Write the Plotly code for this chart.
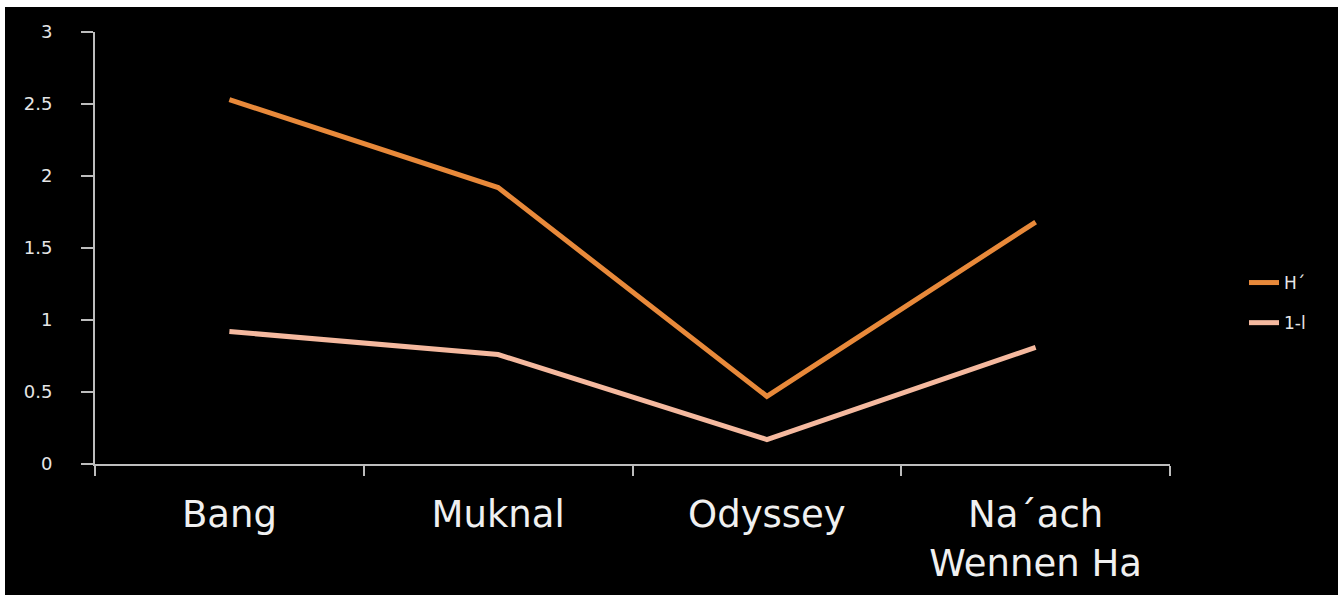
import plotly.graph_objects as go

# Diversity indices per site
sites = ["Bang", "Muknal", "Odyssey", "Na´ach<br>Wennen Ha"]
h_prime = [2.53, 1.92, 0.47, 1.68]
one_minus_l = [0.92, 0.76, 0.17, 0.81]
y_ticks = [0, 0.5, 1, 1.5, 2, 2.5, 3]

W, H = 1343, 598
L, R, T, B = 95, 173, 32, 134
pw, ph = W - L - R, H - T - B

def px_to_paper_x(px):
    return (px - L) / pw

def px_to_paper_y(py):
    return (H - B - py) / ph

fig = go.Figure()
fig.add_trace(go.Scatter(x=sites, y=h_prime, mode="lines", name="H´",
                         legendgroup="a", line=dict(color="#E8893A", width=5)))
fig.add_trace(go.Scatter(x=sites, y=one_minus_l, mode="lines", name="1-l",
                         legendgroup="b", line=dict(color="#F5B99F", width=5)))

# black panel with a thin white frame around it
fig.add_shape(type="rect", xref="paper", yref="paper", layer="below",
              x0=px_to_paper_x(5), x1=px_to_paper_x(1338),
              y0=px_to_paper_y(595), y1=px_to_paper_y(7),
              fillcolor="black", line=dict(width=0))

fig.update_layout(
    width=W, height=H,
    margin=dict(l=L, r=R, t=T, b=B),
    paper_bgcolor="white",
    plot_bgcolor="rgba(0,0,0,0)",
    font=dict(family="DejaVu Sans", color="#e6e6e6"),
    showlegend=True,
    legend=dict(x=px_to_paper_x(1244), y=px_to_paper_y(265), xanchor="left", yanchor="top",
                bgcolor="rgba(0,0,0,0)", font=dict(size=17, color="#e6e6e6"),
                tracegroupgap=15),
    xaxis=dict(type="category", range=[-0.5, 3.5], tickson="boundaries",
               showline=True, linecolor="#bdbdbd", linewidth=2,
               ticks="outside", ticklen=10, tickcolor="#bdbdbd", tickwidth=2,
               showgrid=False, zeroline=False,
               tickfont=dict(size=37, color="#f0f0f0"), ticklabelstandoff=17),
    yaxis=dict(range=[0, 3], tickvals=y_ticks, ticktext=[f"{v:g}" for v in y_ticks],
               showline=True, linecolor="#bdbdbd", linewidth=2,
               ticks="outside", ticklen=12, tickcolor="#bdbdbd", tickwidth=2,
               showgrid=False, zeroline=False,
               tickfont=dict(size=18, color="#e6e6e6"), ticklabelstandoff=25),
)

fig.write_html("out.html")
